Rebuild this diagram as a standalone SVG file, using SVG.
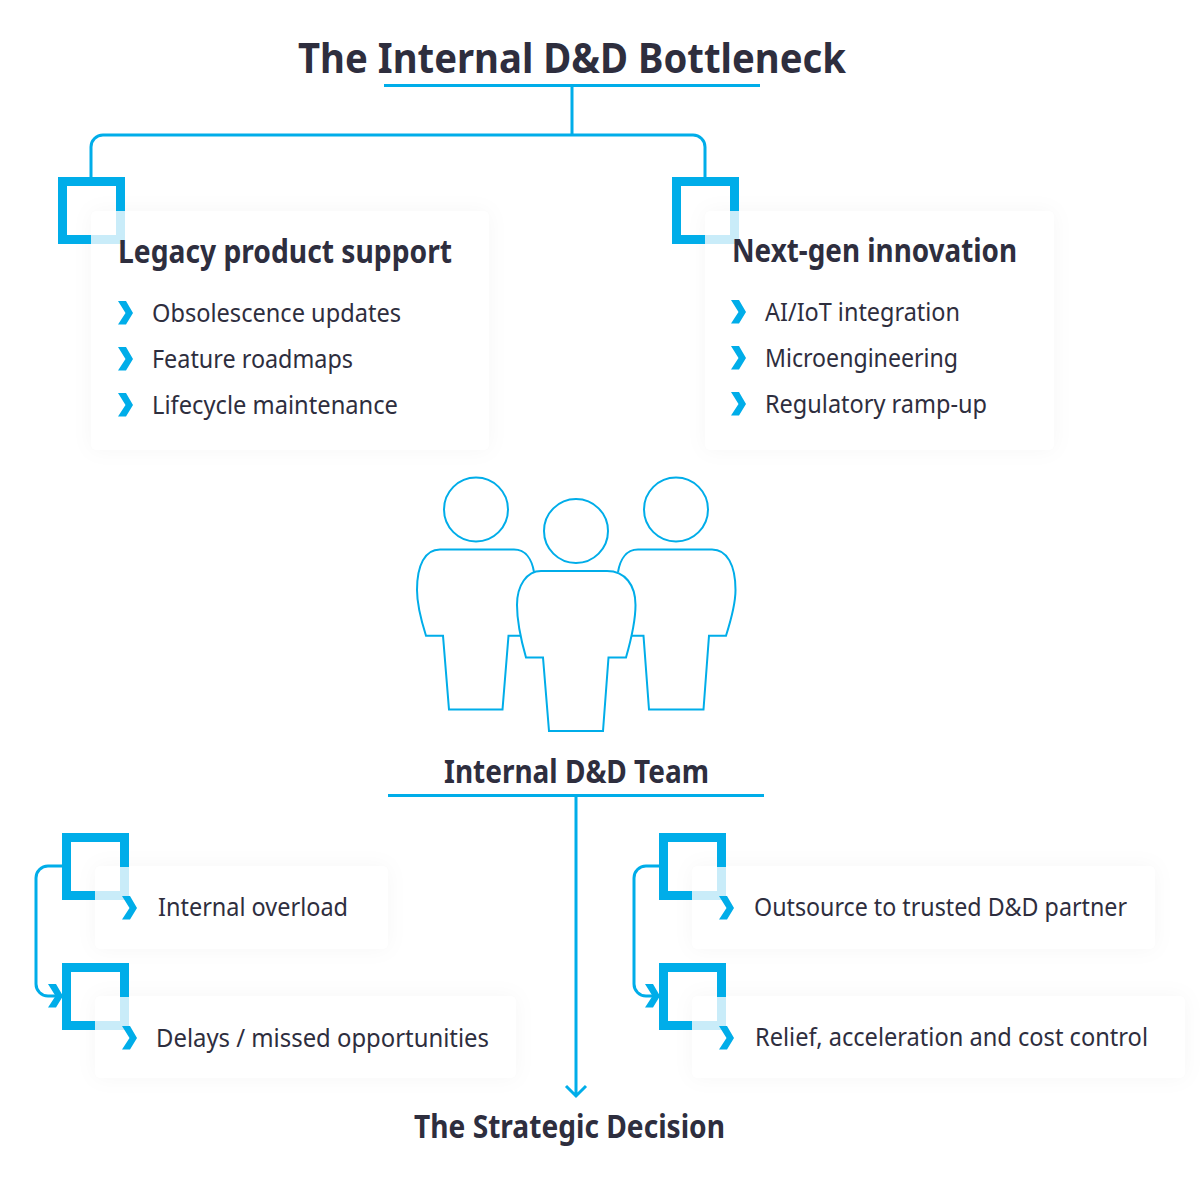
<svg xmlns="http://www.w3.org/2000/svg" width="1200" height="1186" viewBox="0 0 1200 1186">
<style>
text{font-family:"Noto Sans","Open Sans","Liberation Sans",sans-serif;fill:#2e2e3e}
.b{font-size:26px;font-weight:400}
.h{font-size:32px;font-weight:700}
.t{font-size:42px;font-weight:700}
.m{font-size:32px;font-weight:700}
.line{fill:none;stroke:#00ade9;stroke-width:3}
.card{fill:#fff;filter:url(#sh)}
.sq{fill:none;stroke:#00ade9;stroke-width:9}
.sl{fill:none;stroke:#c9ecf9;stroke-width:9}
.ic{fill:#fff;stroke:#00ade9;stroke-width:2}
</style>
<defs>
<filter id="sh" x="-15%" y="-25%" width="130%" height="150%"><feDropShadow dx="0" dy="0" stdDeviation="10" flood-color="#000" flood-opacity="0.035"/></filter>
<path id="chev" d="M0 0H8L15 12L8 23.5H0L7.5 12Z" fill="#00ade9"/>
<g id="sq"><path class="sq" d="M33 62.5H4.500V4.500H62.500V34"/><path class="sl" d="M33 62.500H62.500V34"/></g>
</defs>
<rect width="1200" height="1186" fill="#fff"/>
<g id="connectors">
<path class="line" d="M384 85.500H760M572 85V135M91 177V147A12 12 0 0 1 103 135H693A12 12 0 0 1 705 147V177"/>
<path class="line" d="M388 795.500H764M576 795V1096M566 1086L576 1096L586 1086"/>
<path class="line" d="M62 866H48A12 12 0 0 0 36 878V984A12 12 0 0 0 48 996H62"/>
<path class="line" d="M659 866H646A12 12 0 0 0 634 878V984A12 12 0 0 0 646 996H659"/>
<use href="#chev" x="48" y="984"/>
<use href="#chev" x="645" y="984"/>
</g>
<g id="title"><text class="t" x="298" y="73" textLength="548" lengthAdjust="spacingAndGlyphs">The Internal D&amp;D Bottleneck</text></g>
<g id="legacy">
<rect class="card" x="91" y="211" width="398" height="239" rx="6"/>
<use href="#sq" x="58" y="177"/>
<text class="h" x="118" y="263" textLength="334" lengthAdjust="spacingAndGlyphs">Legacy product support</text>
<use href="#chev" x="118" y="301"/><text class="b" x="152" y="322" textLength="249" lengthAdjust="spacingAndGlyphs">Obsolescence updates</text>
<use href="#chev" x="118" y="347"/><text class="b" x="152" y="368" textLength="201" lengthAdjust="spacingAndGlyphs">Feature roadmaps</text>
<use href="#chev" x="118" y="393"/><text class="b" x="152" y="414" textLength="246" lengthAdjust="spacingAndGlyphs">Lifecycle maintenance</text>
</g>
<g id="nextgen">
<rect class="card" x="705" y="211" width="349" height="239" rx="6"/>
<use href="#sq" x="672" y="177"/>
<text class="h" x="732" y="262" textLength="285" lengthAdjust="spacingAndGlyphs">Next-gen innovation</text>
<use href="#chev" x="731" y="300"/><text class="b" x="765" y="321" textLength="195" lengthAdjust="spacingAndGlyphs">AI/IoT integration</text>
<use href="#chev" x="731" y="346"/><text class="b" x="765" y="367" textLength="193" lengthAdjust="spacingAndGlyphs">Microengineering</text>
<use href="#chev" x="731" y="392"/><text class="b" x="765" y="413" textLength="222" lengthAdjust="spacingAndGlyphs">Regulatory ramp-up</text>
</g>
<g id="team">
<circle class="ic" cx="476" cy="509.500" r="32"/>
<circle class="ic" cx="676" cy="509.500" r="32"/>
<path class="ic" d="M534 572C532 560 526 549.500 514 549.500H440C425 549.500 417 565 417 590C417 605 421 620 426 635.700H443L449 709.500H502.500L508.500 635.700H525"/>
<path class="ic" d="M618 572C620 560 626 549.500 638 549.500H712C727 549.500 735.500 565 735.500 590C735.500 605 731 620 726 635.700H709L703.500 709.500H649L643.500 635.700H627"/>
<circle class="ic" cx="576" cy="531" r="32"/>
<path class="ic" d="M526 657.500H543L549 731H603L608.500 657.500H626C631 640 635.500 622 635.500 605C635.500 585 625 571 607 571H541C527 571 517 585 517 605C517 622 521 640 526 657.500Z"/>
<text class="m" x="444" y="783" textLength="265" lengthAdjust="spacingAndGlyphs">Internal D&amp;D Team</text>
</g>
<g id="overload">
<rect class="card" x="95" y="866" width="293" height="83" rx="6"/>
<use href="#sq" x="62" y="833"/>
<use href="#chev" x="122" y="896"/><text class="b" x="158" y="916" textLength="190" lengthAdjust="spacingAndGlyphs">Internal overload</text>
</g>
<g id="delays">
<rect class="card" x="95" y="996" width="421" height="82" rx="6"/>
<use href="#sq" x="62" y="963"/>
<use href="#chev" x="122" y="1026"/><text class="b" x="156" y="1047" textLength="333" lengthAdjust="spacingAndGlyphs">Delays / missed opportunities</text>
</g>
<g id="outsource">
<rect class="card" x="692" y="866" width="463" height="83" rx="6"/>
<use href="#sq" x="659" y="833"/>
<use href="#chev" x="719" y="896"/><text class="b" x="754" y="916" textLength="373" lengthAdjust="spacingAndGlyphs">Outsource to trusted D&amp;D partner</text>
</g>
<g id="relief">
<rect class="card" x="692" y="996" width="493" height="82" rx="6"/>
<use href="#sq" x="659" y="963"/>
<use href="#chev" x="719" y="1026"/><text class="b" x="755" y="1046" textLength="393" lengthAdjust="spacingAndGlyphs">Relief, acceleration and cost control</text>
</g>
<g id="decision"><text class="m" x="414" y="1138" textLength="311" lengthAdjust="spacingAndGlyphs">The Strategic Decision</text></g>
</svg>
